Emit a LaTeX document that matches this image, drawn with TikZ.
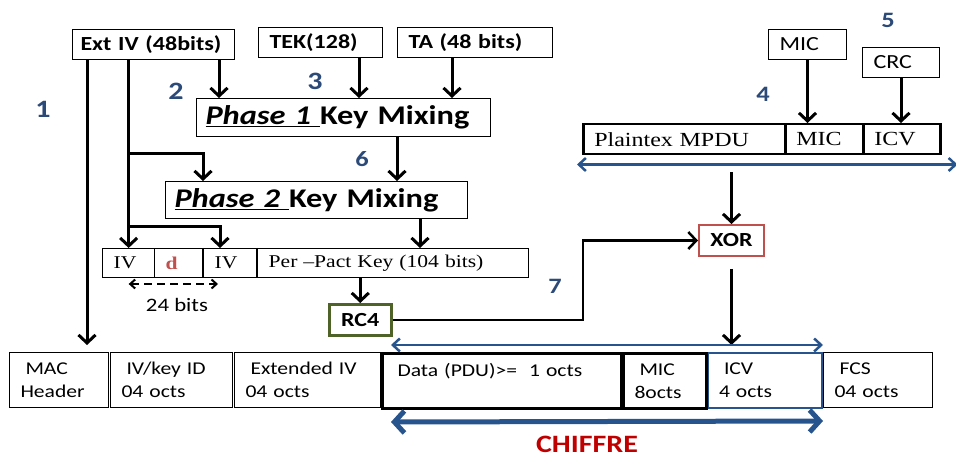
\documentclass[tikz,border=0pt]{standalone}
\usepackage{fontspec}
\setmainfont[FakeStretch=1.2]{Liberation Serif}
\setsansfont[FakeStretch=1.2]{Carlito}
\usetikzlibrary{arrows.meta}

\definecolor{stepblue}{RGB}{44,74,120}
\definecolor{spanblue}{RGB}{40,84,142}
\definecolor{rcgreen}{RGB}{79,98,40}
\definecolor{xorred}{RGB}{192,80,77}
\definecolor{chiffred}{RGB}{192,0,0}

\tikzset{
	lbox/.style={draw, line width=1pt, inner ysep=0pt, inner xsep=11pt, anchor=north west, align=left},
	inbox/.style={lbox, font=\sffamily\bfseries\fontsize{20}{22}\selectfont},
	plainbox/.style={lbox, font=\sffamily\fontsize{20}{22}\selectfont},
	mixbox/.style={lbox, inner xsep=9pt, font=\sffamily\bfseries\fontsize{27}{30}\selectfont},
	keycell/.style={lbox, line width=1.3pt, minimum height=29pt, font=\fontsize{18}{20}\selectfont},
	mpducell/.style={lbox, line width=2.5pt, minimum height=30pt, font=\fontsize{20}{22}\selectfont},
	framecell/.style={lbox, minimum height=55pt, font=\sffamily\fontsize{18}{23}\selectfont},
	opbox/.style={draw, line width=2.5pt, inner sep=0pt, anchor=north west, font=\sffamily\bfseries\fontsize{20}{22}\selectfont},
	stepnum/.style={text=stepblue, font=\sffamily\bfseries\fontsize{#1}{#1}\selectfont},
	arr/.style={line width=3pt, -{Straight Barb[length=8pt,width=17pt]}},
	spanarr/.style={draw=spanblue, line width=2.5pt, {Straight Barb[length=7pt,width=13pt]}-{Straight Barb[length=7pt,width=13pt]}},
	bigspanarr/.style={draw=spanblue, line width=5pt, {Straight Barb[length=10pt,width=22pt]}-{Straight Barb[length=10pt,width=22pt]}},
}

\begin{document}
\begin{tikzpicture}[x=1pt,y=-1pt]
		%%%%% START %%%%%
		\useasboundingbox (0,0) rectangle (956,457);
		
		% inputs of the key mixing
		\node[inbox, inner xsep=8pt, text width=146pt, minimum height=30pt] (extiv) at (72,29) {Ext IV (48bits)};
		\node[inbox, text width=102pt, minimum height=30pt] (tek) at (258,27) {TEK(128)};
		\node[inbox, text width=133pt, minimum height=30pt] (ta) at (397,27) {TA (48 bits)};
		
		\node[mixbox, text width=276pt, minimum height=38pt] (phaseone) at (196,98) {\underline{\itshape Phase 1\ }Key Mixing};
		\node[mixbox, text width=284pt, minimum height=37pt] (phasetwo) at (165,181) {\underline{\itshape Phase 2\ }Key Mixing};
		
		% per packet key
		\node[keycell, text width=30pt] (kiv) at (102,248) {IV};
		\node[keycell, text width=27pt] (kd) at (154,248) {\textcolor{xorred}{\bfseries d}};
		\node[keycell, text width=32pt] (kivb) at (203,248) {IV};
		\node[keycell, text width=249pt] (kper) at (257,248) {Per --Pact Key (104 bits)};
		\draw[line width=2.5pt] (kivb.north west) -- (kivb.south west);
		\draw[line width=2.5pt] (kper.north west) -- (kper.south west);
		
		\node[opbox, draw=rcgreen, minimum width=62pt, minimum height=31pt] (rc4) at (328,303) {RC4};
		\node[opbox, draw=xorred, line width=2pt, minimum width=65pt, minimum height=31pt] (xor) at (698,224) {XOR};
		
		% plaintext side
		\node[plainbox, text width=56pt, minimum height=30pt] (topmic) at (768,29) {MIC};
		\node[plainbox, text width=55pt, minimum height=30pt] (crc) at (862,47) {CRC};
		\node[mpducell, text width=180pt] (pmpdu) at (582,123) {Plaintex MPDU};
		\node[mpducell, text width=56pt] (pmic) at (784,123) {MIC};
		\node[mpducell, text width=55pt] (picv) at (862,123) {ICV};
		
		% frame
		\node[framecell, text width=77pt] (mac) at (9,352) {\hspace{5pt}MAC\\Header};
		\node[framecell, text width=100pt] (ivkey) at (110,352) {\hspace{5pt}IV/key ID\\04 octs};
		\node[framecell, text width=124pt] (extfield) at (234,352) {\hspace{5pt}Extended IV\\04 octs};
		\node[framecell, text width=87pt] (fcs) at (823,352) {\hspace{5pt}FCS\\04 octs};
		\node[framecell, draw=spanblue, line width=2pt, text width=92pt] (icv) at (707,352) {\hspace{5pt}ICV\\4 octs};
		\node[framecell, line width=3pt, text width=217pt] (data) at (381,352) {\hspace{4pt}Data (PDU)>=\ \ 1 octs\\\mbox{}};
		\node[framecell, line width=3pt, text width=61pt] (mic) at (622,352) {\hspace{5pt}MIC\\8octs};
		
		% key mixing arrows
		\draw[arr, shorten >=7pt] (87,0 |- extiv.south) -- (87,0 |- mac.north);
		\draw[arr] (extiv.south -| kiv.north) -- (kiv.north);
		\draw[arr] (kiv.north |- 0,154) -| (203,0 |- phasetwo.north);
		\draw[arr] (kiv.north |- 0,227) -| (220,0 |- kivb.north);
		\draw[arr] (219,0 |- extiv.south) -- (219,0 |- phaseone.north);
		\draw[arr] (359,0 |- tek.south) -- (359,0 |- phaseone.north);
		\draw[arr] (452,0 |- ta.south) -- (452,0 |- phaseone.north);
		\draw[arr] (397,0 |- phaseone.south) -- (397,0 |- phasetwo.north);
		\draw[arr] (420,0 |- phasetwo.south) -- (420,0 |- kper.north);
		\draw[arr] (rc4.north |- kper.south) -- (rc4.north);
		\draw[arr, line width=2.5pt] (rc4.east) -- (583,0 |- rc4.east) |- (xor.west);
		
		\draw[line width=2pt, dashed, dash pattern=on 8pt off 5pt, {Straight Barb[length=5pt,width=9pt]}-{Straight Barb[length=5pt,width=9pt]}] (kiv.south |- 0,284) -- (218,284);
		\node[font=\sffamily\fontsize{19}{20}\selectfont] (width24) at (177,305) {24 bits};
		
		% plaintext arrows
		\draw[arr] (topmic.south) -- (topmic.south |- pmic.north);
		\draw[arr] (crc.south) -- (crc.south |- picv.north);
		\draw[arr, shorten <=17pt] (xor.north |- pmpdu.south) -- (xor.north);
		\draw[arr, shorten <=12pt, shorten >=7pt] (xor.south) -- (xor.south |- icv.north);
		
		% spans
		\draw[spanarr] ([xshift=-5pt,yshift=-9pt]pmpdu.south west) -- ([xshift=16pt,yshift=-9pt]picv.south east);
		\draw[spanarr] ([xshift=10pt,yshift=7pt]data.north west) -- ([yshift=7pt]icv.north east);
		\draw[bigspanarr] ([xshift=10pt,yshift=-12pt]data.south west) -- ([yshift=-12pt]icv.south east);
		\node[text=chiffred, font=\sffamily\bfseries\fontsize{25}{26}\selectfont] (chiffre) at (587,444) {CHIFFRE};
		
		% step numbers
		\node[stepnum=25] (s1) at (43,109) {1};
		\node[stepnum=25] (s2) at (176,91) {2};
		\node[stepnum=25] (s3) at (315,81) {3};
		\node[stepnum=22] (s4) at (763,94) {4};
		\node[stepnum=22] (s5) at (888,20) {5};
		\node[stepnum=22] (s6) at (362,159) {6};
		\node[stepnum=22] (s7) at (555,286) {7};
		
		%%%%% END %%%%%
	\end{tikzpicture}
\end{document}
